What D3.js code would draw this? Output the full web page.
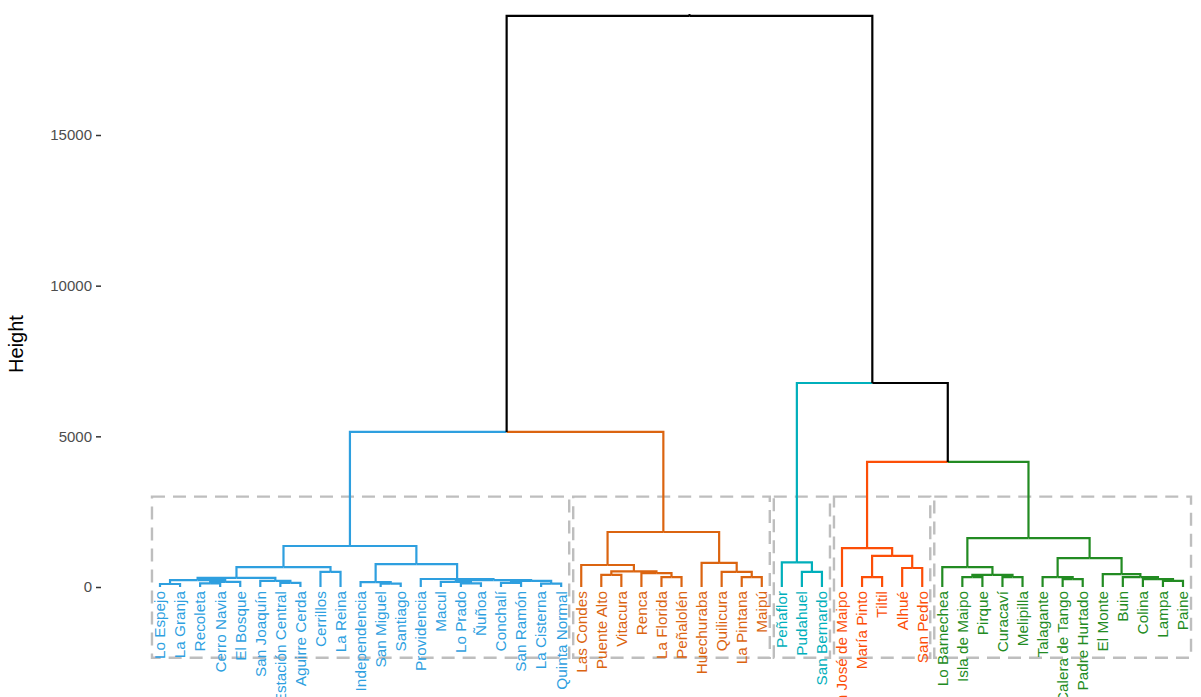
<!DOCTYPE html>
<html>
<head>
<meta charset="utf-8">
<script src="https://cdnjs.cloudflare.com/ajax/libs/d3/7.8.5/d3.min.js"></script>
<style>
  body { margin: 0; background: #fff; }
  text { font-family: "Liberation Sans", Arial, sans-serif; }
</style>
</head>
<body>
<div id="chart-area"></div>
<script>

var width = 1201,
    height = 697;

// leaves, in dendrogram order
var communes = ["Lo Espejo", "La Granja", "Recoleta", "Cerro Navia", "El Bosque", "San Joaquín",
  "Estación Central", "Aguirre Cerda", "Cerrillos", "La Reina", "Independencia", "San Miguel",
  "Santiago", "Providencia", "Macul", "Lo Prado", "Ñuñoa", "Conchalí", "San Ramón", "La Cisterna",
  "Quinta Normal", "Las Condes", "Puente Alto", "Vitacura", "Renca", "La Florida", "Peñalolén",
  "Huechuraba", "Quilicura", "La Pintana", "Maipú", "Peñaflor", "Pudahuel", "San Bernardo",
  "San José de Maipo", "María Pinto", "Tiltil", "Alhué", "San Pedro", "Lo Barnechea",
  "Isla de Maipo", "Pirque", "Curacaví", "Melipilla", "Talagante", "Calera de Tango",
  "Padre Hurtado", "El Monte", "Buin", "Colina", "Lampa", "Paine"];

// merges like hclust: negative = leaf position (1-based), positive = earlier merge
var mergePairs = [
  [-1, -2], [-3, -4], [2, -5], [1, 3], [-7, -8], [-6, 5], [4, 6], [-9, -10], [7, 8],
  [-12, -13], [-11, 10], [-16, -17], [-15, 12], [-18, -19], [-20, -21], [14, 15], [13, 16],
  [-14, 17], [11, 18], [9, 19],
  [-23, -24], [-26, -27], [-25, 22], [21, 23], [-22, 24], [-30, -31], [-29, 26], [-28, 27], [25, 28],
  [-33, -34], [-32, 30],
  [-36, -37], [-38, -39], [32, 33], [-35, 34],
  [-41, -42], [-43, -44], [36, 37], [-40, 38], [-46, -47], [-45, 40], [-51, -52], [-50, 42],
  [-49, 43], [-48, 44], [41, 45], [39, 46],
  [35, 47], [31, 48], [20, 29], [50, 49]
];
var mergeHeights = [
  100, 120, 170, 230, 140, 200, 300, 500, 660,
  110, 160, 120, 170, 140, 110, 200, 230, 265, 760, 1360,
  400, 330, 460, 520, 730, 330, 500, 800, 1825,
  500, 820,
  330, 630, 1030, 1290,
  330, 330, 400, 660, 260, 330, 200, 260, 330, 430, 960, 1625,
  4150, 6770, 5145, 18950
];

// k = 5 clusters, sizes in leaf order
var clusterSizes = [21, 10, 3, 5, 13];
var clusterColors = ["#2E9FDF", "#DB6410", "#00AFBB", "#FC4E07", "#228B22"];

var yTicks = [0, 5000, 10000, 15000];
var rectTop = 3000, rectBottom = -2350;

var svg = d3.select("#chart-area").append("svg")
    .attr("width", width)
    .attr("height", height);

var x = d3.scaleLinear().domain([1, communes.length]).range([160, 1183]);
var y = d3.scaleLinear().domain([0, 15000]).range([587, 135]);

// cluster of each leaf
var leafCluster = [];
clusterSizes.forEach(function(n, c) {
  for (var i = 0; i < n; i++) leafCluster.push(c);
});

// build merge nodes
var nodes = [];
function getNode(ref) {
  if (ref < 0) return { x: -ref, h: 0, leaves: [-ref - 1], leaf: -ref - 1 };
  return nodes[ref - 1];
}
mergePairs.forEach(function(p, i) {
  var a = getNode(p[0]), b = getNode(p[1]);
  nodes.push({ x: (a.x + b.x) / 2, h: mergeHeights[i], kids: [a, b], leaves: a.leaves.concat(b.leaves) });
});

function nodeColor(n) {
  var c = leafCluster[n.leaves[0]];
  for (var i = 1; i < n.leaves.length; i++) if (leafCluster[n.leaves[i]] != c) return "black";
  return clusterColors[c];
}

// edges: each child hangs from its parent's height
var edges = [];
nodes.forEach(function(n) {
  n.kids.forEach(function(k) { edges.push({ parent: n, child: k }); });
});

// dashed cluster boxes
var start = 1;
clusterSizes.forEach(function(n) {
  svg.append("rect")
    .attr("x", x(start - 0.4))
    .attr("y", y(rectTop))
    .attr("width", x(start + n - 1 + 0.4) - x(start - 0.4))
    .attr("height", y(rectBottom) - y(rectTop))
    .attr("fill", "none")
    .attr("stroke", "#BEBEBE")
    .attr("stroke-width", 2.4)
    .attr("stroke-dasharray", "13,8");
  start += n;
});

svg.selectAll(".link")
    .data(edges)
    .enter()
    .append("path")
    .attr("class", "link")
    .attr("fill", "none")
    .attr("stroke-width", 2.2)
    .attr("stroke", function(d) { return nodeColor(d.child); })
    .attr("d", function(d) {
      return "M" + x(d.child.x) + "," + y(d.child.h) +
             "V" + y(d.parent.h) + "H" + x(d.parent.x);
    });

// tiny stub on top of the root
var root = nodes[nodes.length - 1];
svg.append("line")
    .attr("x1", x(root.x)).attr("x2", x(root.x))
    .attr("y1", y(root.h)).attr("y2", y(root.h) - 2)
    .attr("stroke", "black").attr("stroke-width", 2);

// leaf labels (long ones run off the bottom, as in the original)
svg.selectAll(".lab")
    .data(communes)
    .enter()
    .append("text")
    .attr("class", "lab")
    .attr("transform", function(d, i) { return "translate(" + x(i + 1) + "," + (y(0) + 4) + ") rotate(-90)"; })
    .attr("text-anchor", "end")
    .attr("dy", "0.35em")
    .attr("font-size", 15.3)
    .attr("fill", function(d, i) { return clusterColors[leafCluster[i]]; })
    .text(function(d) { return d; });

// y axis
var axis = svg.append("g")
    .attr("transform", "translate(101,0)")
    .call(d3.axisLeft(y).tickValues(yTicks).tickSize(5).tickPadding(4).tickFormat(d3.format("d")));
axis.select(".domain").remove();
axis.selectAll(".tick line").attr("stroke", "#333").attr("stroke-width", 1.5);
axis.selectAll(".tick text").attr("fill", "#4D4D4D").attr("font-size", 15)
    .style("font-family", "'Liberation Sans', Arial, sans-serif");

svg.append("text")
    .attr("transform", "translate(23,344) rotate(-90)")
    .attr("text-anchor", "middle")
    .attr("font-size", 20)
    .attr("fill", "black")
    .text("Height");

</script>
</body>
</html>
